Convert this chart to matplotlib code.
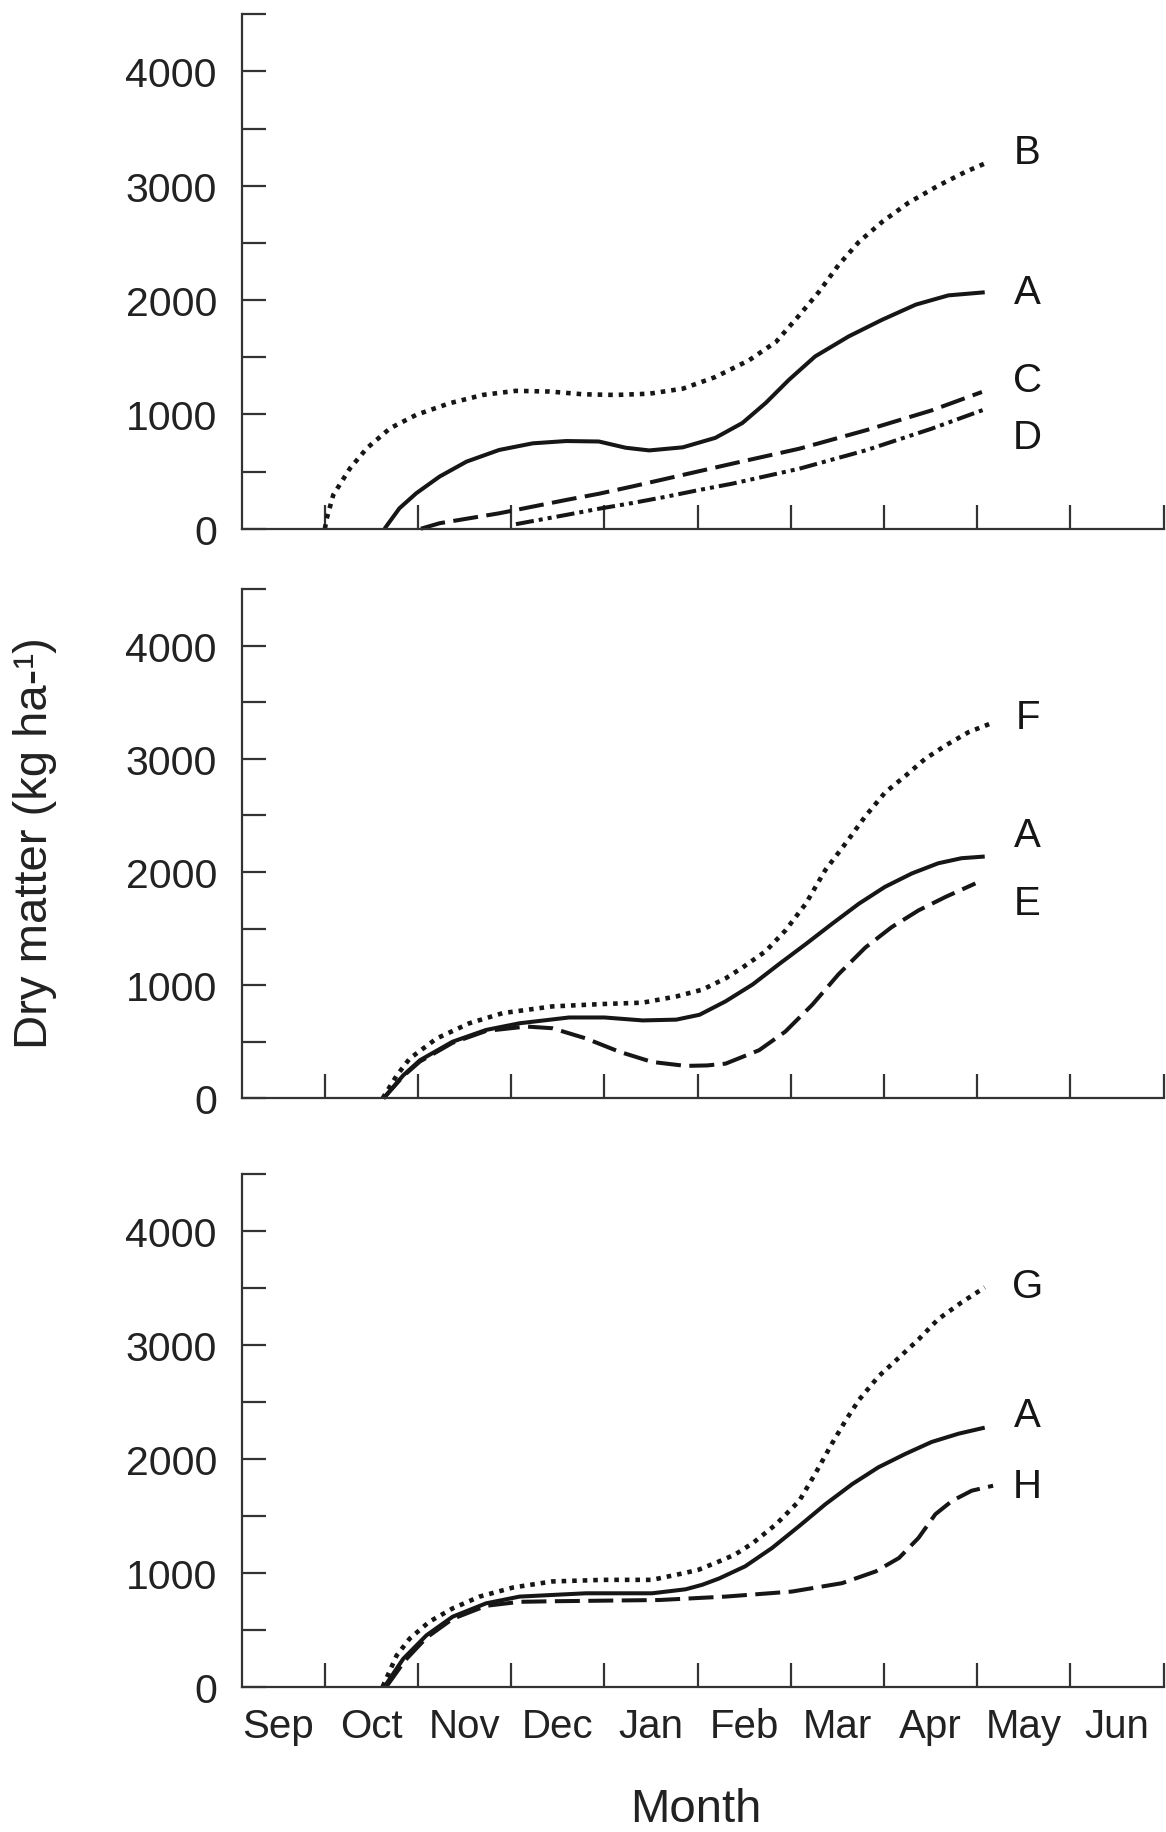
import matplotlib
matplotlib.use("Agg")
import matplotlib.pyplot as plt
from matplotlib.ticker import MultipleLocator, FixedLocator, NullFormatter

plt.rcParams['font.family'] = ['Liberation Sans', 'DejaVu Sans']

# month axis: 0 = 1 Sep, 1 = 1 Oct, ... 10 = 1 Jul
months = ['Sep', 'Oct', 'Nov', 'Dec', 'Jan', 'Feb', 'Mar', 'Apr', 'May', 'Jun']

# top panel
B_x = [1.0, 1.02, 1.09, 1.27, 1.45, 1.70, 1.98, 2.34, 2.70, 3.05, 3.41, 3.77, 4.12, 4.48, 4.84, 5.19, 5.55, 5.84, 6.09, 6.30, 6.51, 6.73, 6.98, 7.26, 7.58, 7.87, 8.08]
B_y = [0, 90, 296, 529, 704, 879, 996, 1098, 1171, 1206, 1200, 1176, 1170, 1181, 1225, 1327, 1473, 1634, 1867, 2071, 2305, 2509, 2684, 2850, 3000, 3120, 3194]
A1_x = [1.64, 1.80, 1.98, 2.23, 2.52, 2.87, 3.23, 3.59, 3.94, 4.23, 4.48, 4.84, 5.19, 5.48, 5.73, 5.98, 6.26, 6.62, 6.98, 7.34, 7.69, 8.08]
A1_y = [0, 179, 310, 456, 587, 689, 747, 767, 763, 708, 685, 712, 795, 925, 1100, 1303, 1507, 1682, 1828, 1960, 2041, 2068]
C_x = [2.03, 2.23, 2.87, 3.59, 3.94, 4.30, 4.66, 5.37, 6.09, 6.80, 7.51, 8.05]
C_y = [0, 48, 135, 252, 306, 370, 437, 569, 700, 860, 1035, 1196]
D_x = [3.05, 3.59, 3.94, 4.30, 4.66, 5.01, 5.37, 6.09, 6.80, 7.51, 8.10]
D_y = [40, 121, 175, 225, 280, 338, 394, 525, 685, 875, 1050]

# middle panel
F_x = [1.62, 1.77, 1.91, 2.20, 2.55, 2.91, 3.44, 3.98, 4.41, 4.77, 5.05, 5.30, 5.48, 5.73, 5.94, 6.16, 6.37, 6.59, 6.80, 7.01, 7.23, 7.44, 7.66, 7.91, 8.17]
F_y = [0, 200, 351, 529, 663, 753, 812, 833, 845, 900, 960, 1060, 1155, 1300, 1482, 1720, 2018, 2256, 2494, 2702, 2851, 3000, 3119, 3238, 3321]
A2_x = [1.63, 1.84, 2.02, 2.37, 2.73, 3.09, 3.62, 4.0, 4.41, 4.77, 5.02, 5.30, 5.59, 5.87, 6.16, 6.44, 6.73, 7.01, 7.30, 7.58, 7.83, 8.08]
A2_y = [0, 202, 336, 500, 604, 663, 714, 714, 688, 695, 738, 857, 1006, 1184, 1363, 1541, 1720, 1869, 1988, 2077, 2122, 2137]
E_x = [1.63, 1.84, 2.02, 2.37, 2.73, 3.16, 3.44, 3.80, 4.16, 4.51, 4.87, 5.10, 5.30, 5.66, 5.94, 6.23, 6.51, 6.80, 7.08, 7.37, 7.66, 7.98]
E_y = [0, 195, 325, 490, 595, 634, 619, 529, 411, 321, 286, 290, 306, 425, 589, 827, 1095, 1333, 1512, 1661, 1780, 1899]

# bottom panel
G_x = [1.62, 1.77, 1.91, 2.12, 2.37, 2.66, 3.02, 3.44, 3.98, 4.51, 4.87, 5.01, 5.23, 5.40, 5.59, 5.84, 6.09, 6.26, 6.44, 6.59, 6.73, 6.94, 7.16, 7.37, 7.58, 7.83, 8.08]
G_y = [0, 274, 422, 570, 687, 791, 871, 924, 938, 938, 1000, 1027, 1100, 1160, 1260, 1425, 1632, 1868, 2134, 2341, 2518, 2725, 2890, 3050, 3227, 3374, 3507]
A3_x = [1.64, 1.84, 2.09, 2.37, 2.73, 3.09, 3.80, 4.51, 4.87, 5.05, 5.23, 5.51, 5.80, 6.09, 6.37, 6.66, 6.94, 7.23, 7.51, 7.80, 8.08]
A3_y = [0, 244, 451, 614, 732, 791, 820, 820, 855, 895, 950, 1057, 1219, 1411, 1602, 1780, 1927, 2045, 2149, 2222, 2275]
H_x = [1.66, 1.86, 2.09, 2.37, 2.73, 3.09, 3.44, 4.59, 5.30, 6.01, 6.55, 6.91, 7.16, 7.37, 7.55, 7.73, 7.94, 8.17]
H_y = [0, 230, 430, 595, 710, 745, 750, 761, 791, 835, 909, 1012, 1130, 1307, 1514, 1632, 1721, 1765]

# curve label positions (value axis)
top_labels = [('B', 3296), ('A', 2071), ('C', 1298), ('D', 802)]
mid_labels = [('F', 3373), ('A', 2329), ('E', 1723)]
bot_labels = [('G', 3523), ('A', 2383), ('H', 1762)]
label_x = 8.54

lw = 2.9
dot_lw = 3.3
dotted = (0, (1.0, 1.3))
dashed = (0, (6.2, 2.1))
dash_dot_dot = (0, (4.5, 1.25, 1.0, 1.25, 1.0, 1.25))

ink = '#161616'
axis_col = '#333333'

fig = plt.figure(figsize=(11.66, 18.33), dpi=100)
left, width = 0.2075, 0.7905
ax1 = fig.add_axes([left, 0.711, width, 0.2807])
ax2 = fig.add_axes([left, 0.4003, width, 0.2777])
ax3 = fig.add_axes([left, 0.0793, width, 0.2795])


def style_axis(ax, show_months):
    ax.set_xlim(0.11, 10.0)
    ax.set_ylim(0, 4500)
    for s in ['top', 'right']:
        ax.spines[s].set_visible(False)
    for s in ['left', 'bottom']:
        ax.spines[s].set_linewidth(1.6)
        ax.spines[s].set_color(axis_col)
    ax.yaxis.set_major_locator(MultipleLocator(1000))
    ax.yaxis.set_minor_locator(FixedLocator([500, 1500, 2500, 3500, 4500]))
    ax.tick_params(axis='y', which='both', direction='in', length=17, width=1.6,
                   color=axis_col, labelsize=29.5, pad=18, labelcolor='#222222')
    ax.xaxis.set_major_locator(FixedLocator(list(range(1, 11))))
    ax.xaxis.set_major_formatter(NullFormatter())
    ax.tick_params(axis='x', which='major', direction='in', length=17, width=1.6,
                   color=axis_col)
    if show_months:
        ax.xaxis.set_minor_locator(FixedLocator([i + 0.5 for i in range(10)]))
        ax.set_xticklabels(months, minor=True)
        ax.tick_params(axis='x', which='minor', length=0, labelsize=29, pad=15,
                       labelcolor='#222222')
    ax.set_facecolor('none')


def draw(ax, x, y, ls):
    w = dot_lw if ls is dotted else lw
    ax.plot(x, y, color=ink, lw=w, linestyle=ls, dash_capstyle='butt',
            solid_capstyle='butt', solid_joinstyle='round', clip_on=False)


draw(ax1, B_x, B_y, dotted)
draw(ax1, A1_x, A1_y, '-')
draw(ax1, C_x, C_y, dashed)
draw(ax1, D_x, D_y, dash_dot_dot)
for t, v in top_labels:
    ax1.text(label_x, v, t, fontsize=29, ha='center', va='center', color=ink)

draw(ax2, F_x, F_y, dotted)
draw(ax2, A2_x, A2_y, '-')
draw(ax2, E_x, E_y, dashed)
for t, v in mid_labels:
    ax2.text(label_x, v, t, fontsize=29, ha='center', va='center', color=ink)

draw(ax3, G_x, G_y, dotted)
draw(ax3, A3_x, A3_y, '-')
draw(ax3, H_x, H_y, dashed)
for t, v in bot_labels:
    ax3.text(label_x, v, t, fontsize=29, ha='center', va='center', color=ink)

style_axis(ax1, False)
style_axis(ax2, False)
style_axis(ax3, True)

fig.text(0.030, 0.540, 'Dry matter (kg ha-¹)', rotation=90, fontsize=34,
         ha='center', va='center', color='#222222')
fig.text(0.597, 0.0125, 'Month', fontsize=34, ha='center', va='center',
         color='#222222')

fig.savefig('out.png', dpi=100)
